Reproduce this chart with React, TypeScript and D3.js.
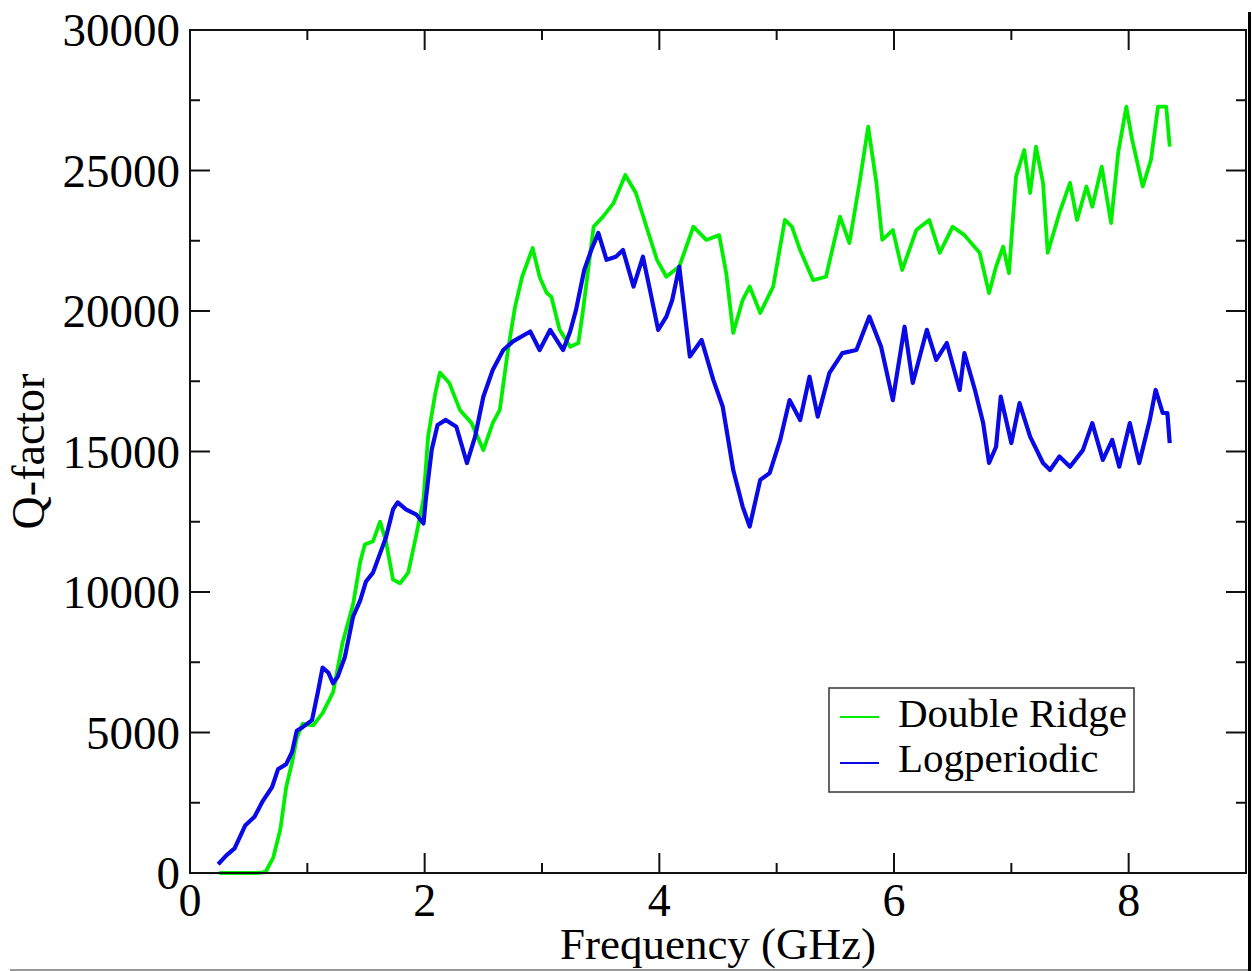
import React from "react";
import * as d3 from "d3";

// Double Ridge antenna: frequency (GHz) and Q-factor
const drFreq = [
  0.25, 0.55, 0.62, 0.65, 0.71, 0.77, 0.82, 0.87, 0.91, 0.96, 1.05, 1.13, 1.22, 1.3, 1.39, 1.45, 1.49, 1.56,
  1.62, 1.67, 1.73, 1.79, 1.86, 1.93, 1.99, 2.03, 2.09, 2.13, 2.21, 2.3, 2.4, 2.5, 2.58, 2.64, 2.71, 2.77,
  2.83, 2.92, 2.98, 3.04, 3.08, 3.15, 3.24, 3.31, 3.35, 3.44, 3.52, 3.61, 3.71, 3.8, 3.89, 3.98, 4.06, 4.17,
  4.29, 4.4, 4.51, 4.57, 4.63, 4.71, 4.77, 4.86, 4.97, 5.07, 5.13, 5.2, 5.31, 5.42, 5.54, 5.62, 5.71, 5.78,
  5.85, 5.9, 5.99, 6.07, 6.19, 6.3, 6.39, 6.5, 6.6, 6.73, 6.81, 6.87, 6.93, 6.98, 7.04, 7.11, 7.16, 7.21,
  7.27, 7.31, 7.41, 7.5, 7.56, 7.64, 7.69, 7.77, 7.85, 7.91, 7.98, 8.03, 8.12, 8.19, 8.25, 8.32, 8.35,
];
const drQ = [
  0, 0, 20, 80, 560, 1560, 3060, 3940, 4810, 5310, 5250, 5690, 6440, 8190, 9560, 11060, 11690, 11810,
  12500, 11810, 10440, 10310, 10690, 12060, 13310, 15560, 17060, 17810, 17440, 16480, 16010, 15050, 16010, 16480, 18610, 20140,
  21210, 22240, 21210, 20640, 20510, 19330, 18730, 18860, 20040, 23000, 23360, 23840, 24840, 24200, 23000, 21820, 21220, 21580,
  23000, 22530, 22700, 21350, 19220, 20390, 20870, 19930, 20870, 23240, 23000, 22170, 21100, 21220, 23360, 22420, 24660, 26560,
  24560, 22530, 22880, 21460, 22880, 23240, 22070, 23000, 22700, 22070, 20640, 21580, 22290, 21350, 24780, 25730, 24200, 25850,
  24560, 22070, 23490, 24560, 23240, 24430, 23710, 25140, 23130, 25620, 27270, 26090, 24430, 25380, 27270, 27270, 25850,
];

// Logperiodic antenna: frequency (GHz) and Q-factor
const lpFreq = [
  0.24, 0.31, 0.38, 0.47, 0.55, 0.62, 0.7, 0.75, 0.82, 0.87, 0.91, 0.96, 1.04, 1.09, 1.13, 1.18, 1.22, 1.26,
  1.32, 1.39, 1.45, 1.5, 1.56, 1.62, 1.67, 1.73, 1.77, 1.84, 1.93, 1.99, 2.01, 2.06, 2.11, 2.18, 2.27, 2.36,
  2.43, 2.5, 2.58, 2.67, 2.75, 2.9, 2.98, 3.07, 3.18, 3.24, 3.29, 3.36, 3.42, 3.48, 3.55, 3.63, 3.69, 3.78,
  3.86, 3.92, 3.99, 4.06, 4.11, 4.17, 4.26, 4.36, 4.46, 4.54, 4.63, 4.71, 4.77, 4.86, 4.94, 5.03, 5.11, 5.2,
  5.28, 5.35, 5.45, 5.56, 5.68, 5.79, 5.89, 5.99, 6.09, 6.16, 6.28, 6.36, 6.45, 6.56, 6.6, 6.69, 6.76, 6.81,
  6.87, 6.91, 7.0, 7.07, 7.16, 7.27, 7.33, 7.41, 7.5, 7.61, 7.69, 7.78, 7.86, 7.92, 8.01, 8.09, 8.18, 8.23,
  8.29, 8.33, 8.35,
];
const lpQ = [
  312, 625, 875, 1690, 2000, 2560, 3060, 3690, 3875, 4310, 5060, 5190, 5440, 6440, 7310, 7125, 6750, 7000,
  7690, 9125, 9690, 10375, 10690, 11375, 11940, 12940, 13190, 12940, 12750, 12440, 13310, 15060, 15940, 16125, 15880, 14590,
  15530, 16950, 17900, 18610, 18910, 19270, 18610, 19330, 18610, 19270, 20040, 21460, 22170, 22780, 21820, 21930, 22170, 20870,
  21930, 20750, 19330, 19800, 20390, 21580, 18380, 18970, 17550, 16600, 14340, 13040, 12330, 13990, 14230, 15410, 16830, 16120,
  17660, 16240, 17800, 18500, 18610, 19800, 18730, 16830, 19440, 17440, 19330, 18260, 18860, 17190, 18500, 17190, 16010, 14590,
  15170, 16950, 15300, 16720, 15530, 14590, 14340, 14820, 14460, 15050, 16010, 14700, 15410, 14460, 16010, 14590, 16120, 17190,
  16370, 16370, 15300,
];

const xMajorTicks = [0, 2, 4, 6, 8];
const xMinorTicks = [1, 3, 5, 7];
const yMajorTicks = [0, 5000, 10000, 15000, 20000, 25000, 30000];
const yMinorTicks = [2500, 7500, 12500, 17500, 22500, 27500];

const seriesNames = ["Double Ridge", "Logperiodic"];
const seriesColors = ["#00ee00", "#0a0ae6"];

const W = 1252;
const H = 971;
const left = 190;
const right = 1246;
const top = 30;
const bottom = 873;
const FONT = "'Liberation Serif', 'Times New Roman', serif";

export default function App() {
  const x = d3.scaleLinear().domain([0, 9]).range([left, right]);
  const y = d3.scaleLinear().domain([0, 30000]).range([bottom, top]);

  const line = d3
    .line<[number, number]>()
    .x((d) => x(d[0]))
    .y((d) => y(d[1]));

  const drPts = drFreq.map((f, i) => [f, drQ[i]] as [number, number]);
  const lpPts = lpFreq.map((f, i) => [f, lpQ[i]] as [number, number]);

  const majorLen = 20;
  const minorLen = 10;

  return (
    <svg
      width={W}
      height={H}
      style={{ position: "absolute", left: 0, top: 0, background: "#fff" }}
      fontFamily={FONT}
    >
      <rect x={0} y={0} width={W} height={H} fill="#fff" />

      {/* data curves */}
      <path d={line(drPts) ?? ""} fill="none" stroke={seriesColors[0]} strokeWidth={3.8} strokeLinejoin="round" />
      <path d={line(lpPts) ?? ""} fill="none" stroke={seriesColors[1]} strokeWidth={4.2} strokeLinejoin="round" />

      {/* frame */}
      <rect x={left} y={top} width={right - left} height={bottom - top} fill="none" stroke="#111" strokeWidth={2} />

      {/* x ticks, bottom and top */}
      {xMajorTicks.map((t) => (
        <g key={"xM" + t}>
          <line x1={x(t)} x2={x(t)} y1={bottom} y2={bottom - majorLen} stroke="#111" strokeWidth={2} />
          <line x1={x(t)} x2={x(t)} y1={top} y2={top + majorLen} stroke="#111" strokeWidth={2} />
          <text x={x(t)} y={916} textAnchor="middle" fontSize={46} fill="#000">
            {t}
          </text>
        </g>
      ))}
      {xMinorTicks.map((t) => (
        <g key={"xm" + t}>
          <line x1={x(t)} x2={x(t)} y1={bottom} y2={bottom - minorLen} stroke="#111" strokeWidth={2} />
          <line x1={x(t)} x2={x(t)} y1={top} y2={top + minorLen} stroke="#111" strokeWidth={2} />
        </g>
      ))}

      {/* y ticks, left and right */}
      {yMajorTicks.map((t) => (
        <g key={"yM" + t}>
          <line x1={left} x2={left + majorLen} y1={y(t)} y2={y(t)} stroke="#111" strokeWidth={2} />
          <line x1={right} x2={right - majorLen} y1={y(t)} y2={y(t)} stroke="#111" strokeWidth={2} />
          <text x={180} y={y(t) + 16} textAnchor="end" fontSize={47} fill="#000">
            {t}
          </text>
        </g>
      ))}
      {yMinorTicks.map((t) => (
        <g key={"ym" + t}>
          <line x1={left} x2={left + minorLen} y1={y(t)} y2={y(t)} stroke="#111" strokeWidth={2} />
          <line x1={right} x2={right - minorLen} y1={y(t)} y2={y(t)} stroke="#111" strokeWidth={2} />
        </g>
      ))}

      {/* axis titles */}
      <text x={(left + right) / 2} y={959} textAnchor="middle" fontSize={45} fill="#000">
        Frequency (GHz)
      </text>
      <text
        transform={`translate(44, ${(top + bottom) / 2}) rotate(-90)`}
        textAnchor="middle"
        fontSize={46}
        fill="#000"
      >
        Q-factor
      </text>

      {/* legend */}
      <rect x={829} y={688} width={305} height={104} fill="#fff" stroke="#333" strokeWidth={1.5} />
      {seriesNames.map((name, i) => (
        <g key={name}>
          <line x1={840} x2={879} y1={717 + i * 46} y2={717 + i * 46} stroke={seriesColors[i]} strokeWidth={2} />
          <text x={898} y={727 + i * 45} fontSize={41} fill="#000">
            {name}
          </text>
        </g>
      ))}

      {/* page border */}
      <line x1={10} x2={1250} y1={970} y2={970} stroke="#999" strokeWidth={2} />
      <line x1={1249.5} x2={1249.5} y1={12} y2={971} stroke="#000" strokeWidth={3} />
    </svg>
  );
}
